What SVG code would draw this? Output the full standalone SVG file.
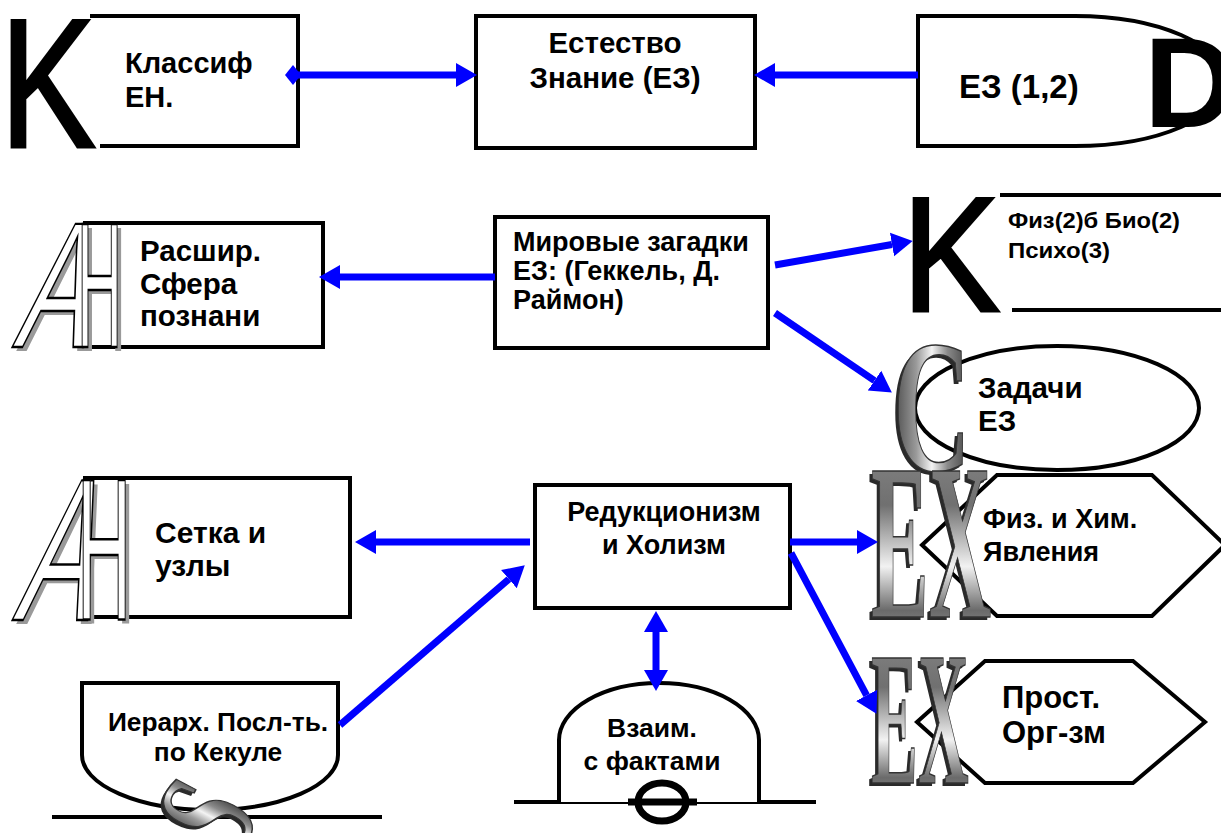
<svg xmlns="http://www.w3.org/2000/svg" width="1221" height="833" viewBox="0 0 1221 833">
  <defs>
    <style>
      .box { fill: #fff; stroke: #000; stroke-width: 4; }
      .bg { fill: #fff; stroke: none; }
      .open { fill: none; stroke: #000; stroke-width: 4; }
      .lbl { font-family: "Liberation Sans", Arial, sans-serif; font-weight: bold; fill: #000; }
      .conn { stroke: #0000FF; stroke-width: 7; fill: none; }
      .big { font-family: "Liberation Sans", Arial, sans-serif; fill: #000; }
      .kk { font-family: "Liberation Sans", Arial, sans-serif; fill: #000; stroke: #000; stroke-width: 3; }
      .outl { fill: #fff; stroke: #000; stroke-width: 2.5; font-family: "Liberation Sans", Arial, sans-serif; }
      .shad { fill: #9a9a9a; font-family: "Liberation Sans", Arial, sans-serif; }
      .metal { font-family: "Liberation Serif", "Times New Roman", serif; font-weight: bold; stroke: #333; stroke-width: 1.5; }
      .metalShadow { font-family: "Liberation Serif", "Times New Roman", serif; font-weight: bold; fill: #2a2a2a; }
    </style>
    <linearGradient id="chromeH" x1="0" y1="0" x2="1" y2="0">
      <stop offset="0" stop-color="#4a4a4a"/>
      <stop offset="0.3" stop-color="#9a9a9a"/>
      <stop offset="0.5" stop-color="#f4f4f4"/>
      <stop offset="0.7" stop-color="#8a8a8a"/>
      <stop offset="1" stop-color="#3c3c3c"/>
    </linearGradient>
    <linearGradient id="chromeV" x1="0" y1="0" x2="0" y2="1">
      <stop offset="0" stop-color="#8c8c8c"/>
      <stop offset="0.35" stop-color="#707070"/>
      <stop offset="0.6" stop-color="#f2f2f2"/>
      <stop offset="0.78" stop-color="#6a6a6a"/>
      <stop offset="1" stop-color="#b8b8b8"/>
    </linearGradient>
    <marker id="arrow" markerUnits="userSpaceOnUse" viewBox="0 0 22 26" markerWidth="22" markerHeight="26" refX="0" refY="13" orient="auto-start-reverse">
      <path d="M0,1 L21,13 L0,25 z" fill="#0000FF"/>
    </marker>
    <marker id="diamond" markerUnits="userSpaceOnUse" viewBox="-9 -11 18 22" markerWidth="18" markerHeight="22" refX="0" refY="0" orient="auto">
      <path d="M-8,0 L0,-10 L8,0 L0,10 z" fill="#0000FF"/>
    </marker>
  </defs>

  <rect width="1221" height="833" fill="#fff"/>

  <!-- Классиф ЕН. -->
  <g id="n-klassif">
    <path class="bg" d="M90,16 H298 V146 H100 L55,81 Z"/>
    <path class="open" d="M90,16 H298 V146 H100"/>
    <text class="kk" transform="translate(0,147) scale(0.78,1)" font-size="184">K</text>
    <text class="lbl" x="125" y="73" font-size="29">Классиф</text>
    <text class="lbl" x="125" y="107" font-size="29">ЕН.</text>
  </g>

  <!-- Естество Знание -->
  <g id="n-estestvo">
    <rect class="box" x="476" y="16" width="279" height="132"/>
    <text class="lbl" x="615" y="53" text-anchor="middle" font-size="29.5">Естество</text>
    <text class="lbl" x="615" y="88" text-anchor="middle" font-size="29.5">Знание (ЕЗ)</text>
  </g>

  <!-- ЕЗ (1,2) -->
  <g id="n-ez12">
    <path class="box" d="M918,16 H1075 A150,65 0 0 1 1075,146 H918 Z"/>
    <text class="big" x="1144" y="127" font-size="128" font-weight="bold">D</text>
    <text class="lbl" x="959" y="98" font-size="33">ЕЗ (1,2)</text>
  </g>

  <!-- Расшир. Сфера познани -->
  <g id="n-rasshir">
    <rect class="box" x="85" y="223" width="238" height="124"/>
    <text class="shad" transform="translate(16,351) skewX(-15) scale(0.6,1)" font-size="179">A</text>
    <text class="shad" transform="translate(81,351) scale(0.35,1)" font-size="179">H</text>
    <text class="outl" transform="translate(12,347) skewX(-15) scale(0.6,1)" font-size="179">A</text>
    <text class="outl" transform="translate(77,347) scale(0.35,1)" font-size="179">H</text>
    <text class="lbl" x="140" y="261" font-size="29.5">Расшир.</text>
    <text class="lbl" x="140" y="294" font-size="29.5">Сфера</text>
    <text class="lbl" x="140" y="326" font-size="29.5">познани</text>
  </g>

  <!-- Мировые загадки -->
  <g id="n-mirovye">
    <rect class="box" x="495" y="217" width="273" height="131"/>
    <text class="lbl" x="513" y="251" font-size="27">Мировые загадки</text>
    <text class="lbl" x="513" y="280" font-size="27">ЕЗ: (Геккель, Д.</text>
    <text class="lbl" x="513" y="309" font-size="27">Раймон)</text>
  </g>

  <!-- Физ(2)б Био(2) Психо(3) -->
  <g id="n-fiz-bio">
    <path class="bg" d="M1000,195 H1240 V310 H1012 L960,252 Z"/>
    <path class="open" d="M1000,195 H1240 M1240,310 H1012"/>
    <text class="kk" transform="translate(902,311) scale(0.9,1)" font-size="163">K</text>
    <text class="lbl" x="1008" y="228" font-size="22" textLength="172" lengthAdjust="spacingAndGlyphs">Физ(2)б Био(2)</text>
    <text class="lbl" x="1008" y="258" font-size="22" textLength="102" lengthAdjust="spacingAndGlyphs">Психо(3)</text>
  </g>

  <!-- Задачи ЕЗ -->
  <g id="n-zadachi">
    <ellipse class="box" cx="1057" cy="408" rx="142" ry="62"/>
    <text class="metalShadow" transform="translate(890,473) scale(0.57,1)" font-size="189">C</text>
    <text class="metal" transform="translate(893,470) scale(0.57,1)" font-size="189" fill="url(#chromeH)">C</text>
    <text class="lbl" x="978" y="398" font-size="29.5">Задачи</text>
    <text class="lbl" x="978" y="431" font-size="29.5">ЕЗ</text>
  </g>

  <!-- Сетка и узлы -->
  <g id="n-setka">
    <rect class="box" x="85" y="478" width="265" height="139"/>
    <text class="shad" transform="translate(16,624) skewX(-15) scale(0.56,1)" font-size="203">A</text>
    <text class="shad" transform="translate(81,624) scale(0.37,1)" font-size="203">H</text>
    <text class="outl" transform="translate(12,620) skewX(-15) scale(0.56,1)" font-size="203">A</text>
    <text class="outl" transform="translate(77,620) scale(0.37,1)" font-size="203">H</text>
    <text class="lbl" x="155" y="543" font-size="30">Сетка и</text>
    <text class="lbl" x="155" y="576" font-size="30">узлы</text>
  </g>

  <!-- Редукционизм и Холизм -->
  <g id="n-redukc">
    <rect class="box" x="535" y="485" width="255" height="123"/>
    <text class="lbl" x="664" y="521" text-anchor="middle" font-size="27">Редукционизм</text>
    <text class="lbl" x="664" y="554" text-anchor="middle" font-size="27">и Холизм</text>
  </g>

  <!-- Физ. и Хим. Явления -->
  <g id="n-yavleniya">
    <polygon class="box" points="922,545 997,475 1152,475 1225,545 1152,616 997,616"/>
    <text class="metalShadow" transform="translate(868,620) scale(0.39,1)" font-size="222">EX</text>
    <text class="metal" transform="translate(871,617) scale(0.39,1)" font-size="222" fill="url(#chromeV)">EX</text>
    <text class="lbl" x="983" y="528" font-size="27">Физ. и Хим.</text>
    <text class="lbl" x="983" y="561" font-size="27">Явления</text>
  </g>

  <!-- Прост. Орг-зм -->
  <g id="n-prost">
    <polygon class="box" points="917,722 985,661 1133,661 1205,722 1133,783 985,783"/>
    <text class="metalShadow" transform="translate(868,786) scale(0.37,1)" font-size="190">EX</text>
    <text class="metal" transform="translate(871,783) scale(0.37,1)" font-size="190" fill="url(#chromeV)">EX</text>
    <text class="lbl" x="1002" y="708" font-size="31">Прост.</text>
    <text class="lbl" x="1002" y="743" font-size="31">Орг-зм</text>
  </g>

  <!-- Иерарх. Посл-ть. по Кекуле -->
  <g id="n-ierarh">
    <line x1="52" y1="817" x2="382" y2="817" stroke="#000" stroke-width="4"/>
    <path class="box" d="M82,683 H338 V755 A128,55 0 0 1 82,755 Z"/>
    <text class="metalShadow" transform="translate(205,818) rotate(-62) scale(0.65,1.05)" font-size="135" text-anchor="middle" dy="44">S</text>
    <text class="metal" transform="translate(208,815) rotate(-62) scale(0.65,1.05)" font-size="135" text-anchor="middle" dy="44" fill="url(#chromeH)">S</text>
    <text class="lbl" x="218" y="731" text-anchor="middle" font-size="26.3">Иерарх. Посл-ть.</text>
    <text class="lbl" x="218" y="761" text-anchor="middle" font-size="26.3">по Кекуле</text>
  </g>

  <!-- Взаим. с фактами -->
  <g id="n-vzaim">
    <line x1="514" y1="802" x2="816" y2="802" stroke="#000" stroke-width="4"/>
    <path class="box" d="M559,802 V740 A100,57 0 0 1 759,740 V802"/>
    <line x1="628" y1="802" x2="697" y2="802" stroke="#000" stroke-width="7"/>
    <ellipse cx="662" cy="802" rx="24" ry="19" fill="none" stroke="#000" stroke-width="7"/>
    <text class="lbl" x="652" y="737" text-anchor="middle" font-size="26.5">Взаим.</text>
    <text class="lbl" x="652" y="770" text-anchor="middle" font-size="26.5">с фактами</text>
  </g>

  <!-- connectors -->
  <g id="connectors">
    <path class="conn" d="M293,75 H456" marker-start="url(#diamond)" marker-end="url(#arrow)"/>
    <path class="conn" d="M918,75 H775" marker-end="url(#arrow)"/>
    <path class="conn" d="M495,277 H340" marker-end="url(#arrow)"/>
    <path class="conn" d="M775,265 L892,244.5" marker-end="url(#arrow)"/>
    <path class="conn" d="M775,313 L874.5,380.7" marker-end="url(#arrow)"/>
    <path class="conn" d="M530,542 H376" marker-end="url(#arrow)"/>
    <path class="conn" d="M790,542 H857" marker-end="url(#arrow)"/>
    <path class="conn" d="M340,725 L508.9,579.1" marker-end="url(#arrow)"/>
    <path class="conn" d="M791,553 L866.6,695.3" marker-end="url(#arrow)"/>
    <path class="conn" d="M656,632 V670" marker-start="url(#arrow)" marker-end="url(#arrow)"/>
  </g>
</svg>
